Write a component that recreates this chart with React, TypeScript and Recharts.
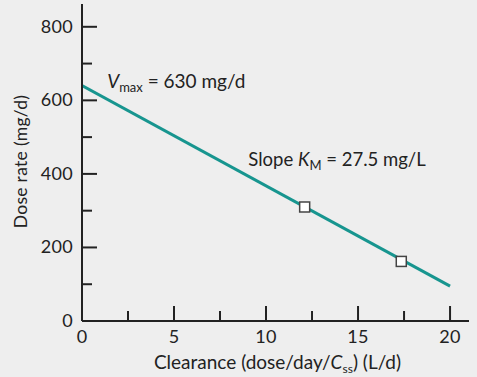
import React from 'react';
import { ComposedChart, Line, Scatter, XAxis, YAxis, ReferenceDot } from 'recharts';

const lineX = [0, 20];
const lineY = [640, 95];
const pointX = [12.1, 17.35];
const pointY = [310, 162];
const xTicks = [0, 2.5, 5, 7.5, 10, 12.5, 15, 17.5, 20];
const xTickLabels = [0, 5, 10, 15, 20];
const yTicks = [0, 100, 200, 300, 400, 500, 600, 700, 800];
const yTickLabels = [0, 200, 400, 600, 800];
const vmaxAnchor = { x: 1.37, y: 634 };
const slopeAnchor = { x: 9.04, y: 422 };

const lineData = lineX.map((x, i) => ({ x, y: lineY[i] }));
const pointData = pointX.map((x, i) => ({ x, y: pointY[i] }));

const INK = '#222';
const TEAL = '#17958f';
const FONT = 'Lato, "Noto Sans", sans-serif';

const XTick = (p: any) => {
  const v = p.payload.value;
  const major = xTickLabels.includes(v);
  return (
    <g>
      <line x1={p.x} x2={p.x} y1={p.y} y2={p.y - (major ? 15 : 10)} stroke={INK} strokeWidth={2} />
      {major && (
        <text x={p.x} y={p.y + 22} textAnchor="middle" fontSize={18} letterSpacing={0.3} fill={INK} fontFamily={FONT}>
          {v}
        </text>
      )}
    </g>
  );
};

const YTick = (p: any) => {
  const v = p.payload.value;
  const major = yTickLabels.includes(v);
  return (
    <g>
      <line x1={p.x} x2={p.x + (major ? 15 : 10)} y1={p.y} y2={p.y} stroke={INK} strokeWidth={2} />
      {major && (
        <text x={p.x - 9} y={p.y + 6} textAnchor="end" fontSize={18} letterSpacing={0.3} fill={INK} fontFamily={FONT}>
          {v}
        </text>
      )}
    </g>
  );
};

const XTitle = (p: any) => {
  const vb = p.viewBox;
  return (
    <text x={vb.x + vb.width / 2 + 2} y={vb.y + 48} textAnchor="middle" fontSize={19} fill={INK} fontFamily={FONT}>
      Clearance (dose/day/<tspan fontStyle="italic">C</tspan>
      <tspan fontSize={12} dy={4}>ss</tspan>
      <tspan dy={-4}>) (L/d)</tspan>
    </text>
  );
};

const YTitle = (p: any) => {
  const vb = p.viewBox;
  const cx = 27;
  const cy = vb.y + vb.height / 2 - 1;
  return (
    <text x={cx} y={cy} textAnchor="middle" fontSize={17.5} letterSpacing={0.3} fill={INK} fontFamily={FONT} transform={`rotate(-90, ${cx}, ${cy})`}>
      Dose rate (mg/d)
    </text>
  );
};

const Square = (p: any) => (
  <rect x={p.cx - 5} y={p.cy - 5} width={10} height={10} fill="#fff" stroke="#444" strokeWidth={1.5} />
);

const VmaxText = (p: any) => (
  <text x={p.cx} y={p.cy} fontSize={19} fill={INK} fontFamily={FONT}>
    <tspan fontStyle="italic">V</tspan>
    <tspan fontSize={13} dy={4}>max</tspan>
    <tspan dy={-4}> = 630 mg/d</tspan>
  </text>
);

const SlopeText = (p: any) => (
  <text x={p.cx} y={p.cy} fontSize={18.5} fill={INK} fontFamily={FONT}>
    Slope <tspan fontStyle="italic">K</tspan>
    <tspan fontSize={13} dy={4}>M</tspan>
    <tspan dy={-4}> = 27.5 mg/L</tspan>
  </text>
);

export default function App() {
  return (
    <div style={{ position: 'absolute', left: 0, top: 0, width: 477, height: 377, background: '#eeeeee' }}>
      <ComposedChart width={477} height={377} margin={{ top: 4, right: 8, bottom: 0, left: 0 }} style={{ fontFamily: FONT }}>
        <XAxis
          type="number"
          dataKey="x"
          domain={[0, 21.03]}
          ticks={xTicks}
          interval={0}
          allowDataOverflow
          height={56}
          tickSize={0}
          tickMargin={0}
          tickLine={false}
          axisLine={{ stroke: INK, strokeWidth: 2 }}
          tick={<XTick />}
          label={<XTitle />}
        />
        <XAxis
          xAxisId="top"
          orientation="top"
          type="number"
          domain={[0, 21.03]}
          height={0}
          tick={false}
          tickLine={false}
          axisLine={{ stroke: INK, strokeWidth: 2 }}
        />
        <YAxis
          type="number"
          dataKey="y"
          domain={[0, 862]}
          ticks={yTicks}
          interval={0}
          allowDataOverflow
          width={82}
          tickSize={0}
          tickMargin={0}
          tickLine={false}
          axisLine={{ stroke: INK, strokeWidth: 2 }}
          tick={<YTick />}
          label={<YTitle />}
        />
        <YAxis
          yAxisId="right"
          orientation="right"
          type="number"
          domain={[0, 862]}
          width={0}
          tick={false}
          tickLine={false}
          axisLine={{ stroke: INK, strokeWidth: 2 }}
        />
        <Line
          data={lineData}
          dataKey="y"
          type="linear"
          stroke={TEAL}
          strokeWidth={3}
          dot={false}
          activeDot={false}
          isAnimationActive={false}
        />
        <Scatter data={pointData} dataKey="y" shape={<Square />} isAnimationActive={false} />
        <ReferenceDot x={vmaxAnchor.x} y={vmaxAnchor.y} r={0} ifOverflow="visible" shape={<VmaxText />} />
        <ReferenceDot x={slopeAnchor.x} y={slopeAnchor.y} r={0} ifOverflow="visible" shape={<SlopeText />} />
      </ComposedChart>
    </div>
  );
}
